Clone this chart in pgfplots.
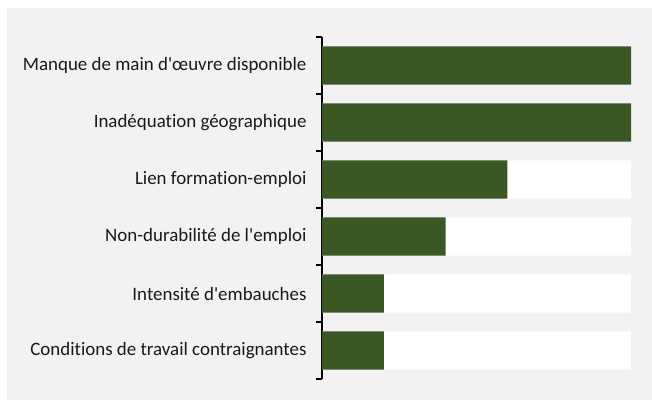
\documentclass[border=0pt]{standalone}
\usepackage{pgfplots}
\pgfplotsset{compat=1.18}
\usepackage{fontspec}
\setmainfont{Carlito}[Ligatures={NoCommon}]
\definecolor{bggray}{HTML}{F2F2F2}
\definecolor{bargreen}{HTML}{3A5724}
\begin{document}
\begin{tikzpicture}[x=1bp,y=1bp]
\path[use as bounding box,fill=white] (0,0) rectangle (652,403);
\fill[bggray] (7,3) rectangle (652,395);
\begin{axis}[
  at={(322bp,24bp)}, anchor=south west,
  scale only axis, width=309bp, height=342bp,
  xmin=0, xmax=5, ymin=-0.5, ymax=5.5,
  axis x line=none,
  axis y line*=left,
  axis line style={black, line width=1.5bp},
  xbar, bar shift=0pt, bar width=0.667,
  ytick={0,...,5},
  yticklabels={Conditions de travail contraignantes,Intensité d\textquotesingle embauches,Non-durabilité de l\textquotesingle emploi,Lien formation-emploi,Inadéquation géographique,Manque de main d\textquotesingle œuvre disponible},
  major tick length=0pt,
  minor ytick={-0.5,0.5,...,5.5},
  minor tick length=6bp,
  tick align=outside,
  every tick/.style={black, line width=1.5bp},
  yticklabel style={font=\fontsize{19}{22}\selectfont, xshift=-12bp, text=black!90},
  clip=false,
]
\addplot[fill=white, draw=none] coordinates {(5,0) (5,1) (5,2) (5,3) (5,4) (5,5)};
\addplot[fill=bargreen, draw=none] coordinates {(1,0) (1,1) (2,2) (3,3) (5,4) (5,5)};
\end{axis}
\end{tikzpicture}
\end{document}
